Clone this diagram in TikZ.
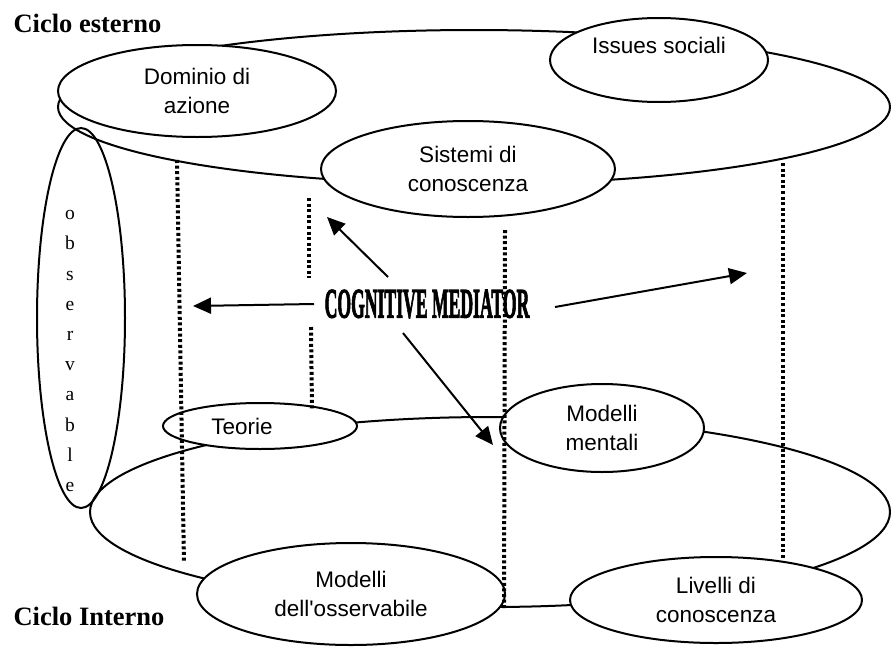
\documentclass[tikz,border=0pt]{standalone}
\usepackage{fontspec}
\setmainfont{Liberation Serif}
\newfontfamily\labelfont{Liberation Sans}
\newfontfamily\mediatorfont[FakeBold=3]{Liberation Serif Bold}
\usetikzlibrary{arrows.meta}
\usetikzlibrary{shapes.geometric}
\tikzset{
	ring/.style={draw, ellipse, line width=2pt, inner sep=0pt},
	bubble/.style n args={2}{
		draw, ellipse, fill=white, line width=2pt, inner sep=0pt, align=center,
		minimum width=#1, minimum height=#2,
		font=\labelfont\fontsize{22.5}{29}\selectfont
	},
	guide/.style={line width=4pt, dash pattern=on 3pt off 2.6pt},
	arr/.style={-{Triangle[length=18pt, width=16pt]}, line width=2pt},
	title/.style={anchor=base west, font=\fontsize{26.5}{30}\selectfont\bfseries}
}

\begin{document}
\begin{tikzpicture}[x=1pt, y=-1pt]

	\useasboundingbox (0,0) rectangle (891,648);

	% ciclo esterno
	\node[ring, minimum width=832pt, minimum height=154pt] (esterno) at (474,107) {};
	\node[bubble={278pt}{92pt}] (dominio) at (197,91) {Dominio di\\azione};
	\node[bubble={218pt}{84pt}] (issues) at (659,60) {Issues sociali\\\mbox{}};
	\node[bubble={294pt}{96pt}] (sistemi) at (468,169) {Sistemi di\\conoscenza};

	% ciclo interno
	\node[ring, minimum width=800pt, minimum height=190pt] (interno) at (490,512) {};
	\node[bubble={194pt}{46pt}] (teorie) at (260,426) {Teorie\hspace*{36pt}};
	\node[bubble={204pt}{88pt}] (mentali) at (602,428) {Modelli\\mentali};
	\node[bubble={308pt}{102pt}] (osservabile) at (351,594) {Modelli\\dell'osservabile};
	\node[bubble={292pt}{86pt}] (livelli) at (716,600) {Livelli di\\conoscenza};

	% observable
	\node[ring, minimum width=88pt, minimum height=380pt] (obs) at (81,318) {};
	\node[align=center, font=\fontsize{19.5}{30.2}\selectfont] (obsText) at (70,351) {o\\b\\s\\e\\r\\v\\a\\b\\l\\e};

	\node[title] (esternoText) at (10,32) {Ciclo esterno};
	\node[title] (internoText) at (10,625) {Ciclo Interno};

	% dotted guides
	\draw[guide] (177,160) -- (184,563);
	\draw[guide] (309,198) -- (309,278);
	\draw[guide] (311,327) -- (312,410);
	\draw[guide] (505,230) -- (504,610);
	\draw[guide] (783,163) -- (783,560);

	\node[font=\mediatorfont\fontsize{42}{50}\selectfont] (cm) at (427,304) {\scalebox{0.42}[1]{COGNITIVE MEDIATOR}};

	\coordinate (ulFrom) at (388,277);
	\coordinate (ulTo) at (327,217);
	\coordinate (lFrom) at (314,304);
	\coordinate (lTo) at (193,306);
	\coordinate (rFrom) at (555,307);
	\coordinate (rTo) at (747,273);
	\coordinate (drFrom) at (403,333);
	\coordinate (drTo) at (493,445);

	% mediator arrows
	\draw[arr] (ulFrom) -- (ulTo);
	\draw[arr] (lFrom) -- (lTo);
	\draw[arr] (rFrom) -- (rTo);
	\draw[arr] (drFrom) -- (drTo);

\end{tikzpicture}
\end{document}
